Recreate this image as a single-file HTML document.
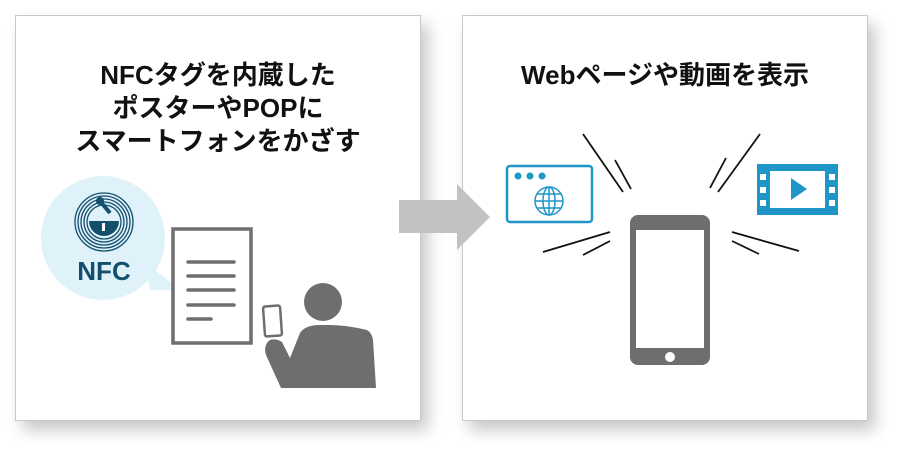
<!DOCTYPE html>
<html><head><meta charset="utf-8"><style>
body{margin:0;width:900px;height:453px;background:#fff;overflow:hidden;font-family:"Liberation Sans","Noto Sans CJK JP",sans-serif}
</style></head><body>
<svg width="900" height="453" xmlns="http://www.w3.org/2000/svg">
<defs><filter id="sh" x="-10%" y="-10%" width="130%" height="130%"><feGaussianBlur stdDeviation="8"/></filter></defs>
<rect x="22" y="24" width="406" height="406" fill="#000" opacity="0.22" filter="url(#sh)"/>
<rect x="469" y="24" width="406" height="406" fill="#000" opacity="0.22" filter="url(#sh)"/>
<rect x="15.5" y="15.5" width="405" height="405" fill="#fff" stroke="#c8c8c8"/>
<rect x="462.5" y="15.5" width="405" height="405" fill="#fff" stroke="#c8c8c8"/>
<polygon points="399,200 457,200 457,184 490,217 457,250 457,233 399,233" fill="#c2c2c2"/>
<g font-weight="bold" font-size="26" fill="#111" text-anchor="middle" font-family="Liberation Sans,Noto Sans CJK JP,sans-serif">
<text x="218" y="84">NFCタグを内蔵した</text>
<text x="218" y="117">ポスターやPOPに</text>
<text x="218" y="150">スマートフォンをかざす</text>
<text x="665" y="84">Webページや動画を表示</text>
</g>
<!-- bubble -->
<circle cx="103" cy="238" r="62" fill="#dff1f9"/>
<polygon points="145,262 180,290 150,290" fill="#dff1f9"/>
<g fill="none" stroke="#13506e" stroke-width="1.3">
<circle cx="104" cy="222" r="29"/><circle cx="104" cy="222" r="26"/><circle cx="104" cy="222" r="23"/><circle cx="104" cy="222" r="20"/><circle cx="104" cy="222" r="17"/>
</g>
<path d="M89 221 A15 15 0 0 0 119 221 Z" fill="#13506e"/>
<circle cx="100" cy="201" r="4" fill="#13506e"/>
<line x1="100" y1="201" x2="110" y2="213" stroke="#13506e" stroke-width="4"/>
<rect x="102" y="223" width="3" height="8" fill="#fff"/>
<text x="104" y="280" font-size="26" font-weight="bold" fill="#13506e" text-anchor="middle">NFC</text>
<!-- doc -->
<rect x="173" y="229" width="78" height="114" fill="#fff" stroke="#6e6e6e" stroke-width="3.5"/>
<g stroke="#6e6e6e" stroke-width="3.5" stroke-linecap="round">
<line x1="188" y1="262" x2="234" y2="262"/><line x1="188" y1="276" x2="234" y2="276"/><line x1="188" y1="290" x2="234" y2="290"/><line x1="188" y1="305" x2="234" y2="305"/><line x1="188" y1="319" x2="211" y2="319"/>
</g>
<!-- person -->
<circle cx="323" cy="302" r="19" fill="#6e6e6e"/>
<path d="M300 333 Q305 325 320 325 L330 325 Q346 325 367 330 Q372 333 373 340 L376 388 L281 388 L266 355 Q263 345 270 340 Q276 338 282 342 L290 358 Z" fill="#6e6e6e"/>
<rect x="264" y="306" width="17" height="30" rx="2" fill="#fff" stroke="#6e6e6e" stroke-width="2.5" transform="rotate(-4 272 321)"/>
<!-- right phone -->
<rect x="630" y="215" width="80" height="150" rx="8" fill="#6e6e6e"/>
<rect x="636" y="230" width="68" height="118" fill="#fff"/>
<circle cx="670" cy="357" r="5" fill="#fff"/>
<g stroke="#111" stroke-width="1.8">
<line x1="583" y1="134" x2="623" y2="192"/><line x1="615" y1="160" x2="631" y2="189"/>
<line x1="760" y1="134" x2="718" y2="192"/><line x1="726" y1="158" x2="710" y2="188"/>
<line x1="543" y1="252" x2="610" y2="232"/><line x1="583" y1="255" x2="610" y2="241"/>
<line x1="732" y1="232" x2="799" y2="251"/><line x1="732" y1="241" x2="759" y2="254"/>
</g>
<!-- browser -->
<rect x="507" y="166" width="85" height="56" rx="3" fill="#fff" stroke="#1e96c8" stroke-width="2.5"/>
<g fill="#1e96c8"><circle cx="518" cy="176" r="3.5"/><circle cx="530" cy="176" r="3.5"/><circle cx="542" cy="176" r="3.5"/></g>
<g fill="none" stroke="#1e96c8" stroke-width="1.5">
<circle cx="549" cy="201" r="14"/><ellipse cx="549" cy="201" rx="6" ry="14"/>
<line x1="549" y1="187" x2="549" y2="215"/><line x1="535" y1="201" x2="563" y2="201"/>
<line x1="537" y1="194" x2="561" y2="194"/><line x1="537" y1="208" x2="561" y2="208"/>
</g>
<!-- film -->
<rect x="757" y="164" width="81" height="51" fill="#1e96c8"/>
<rect x="770" y="171" width="55" height="37" fill="#fff"/>
<g fill="#fff"><rect x="760" y="174" width="6" height="6"/><rect x="760" y="187" width="6" height="6"/><rect x="760" y="200" width="6" height="6"/>
<rect x="829" y="174" width="6" height="6"/><rect x="829" y="187" width="6" height="6"/><rect x="829" y="200" width="6" height="6"/></g>
<polygon points="791,178 807,189 791,200" fill="#1e96c8"/>
</svg>
</body></html>
